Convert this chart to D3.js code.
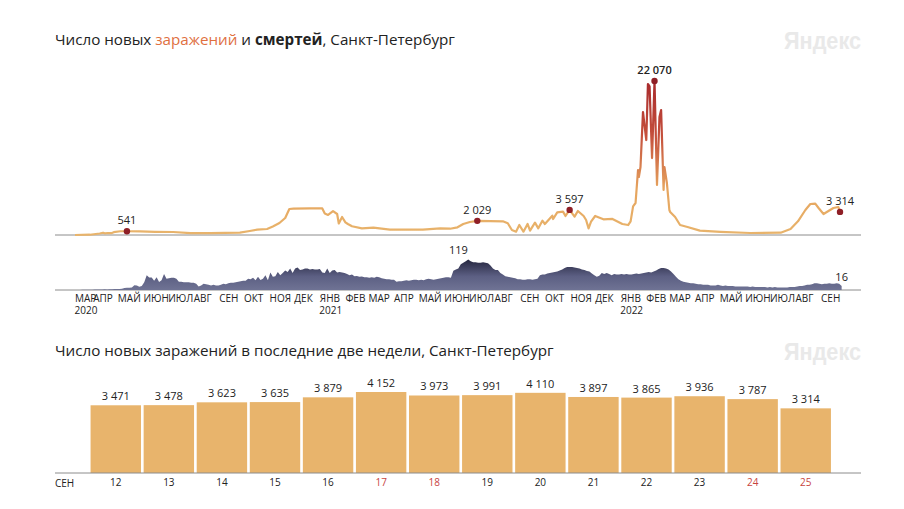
<!DOCTYPE html>
<html>
<head>
<meta charset="utf-8">
<script src="https://cdn.jsdelivr.net/npm/d3@7"></script>
<style>
body { margin: 0; background: #fff; }
svg { display: block; }
text { font-family: "Open Sans", sans-serif; fill: #222; }
</style>
</head>
<body>
<svg id="chart" width="904" height="509"></svg>
<script>
// day offsets from the first day of the series
var startDate = new Date(2020, 2, 10);
var caseDays = [0, 18, 30, 34, 36, 40, 44, 47, 55, 63, 79, 97, 119, 140, 164, 200, 212, 221, 233, 240, 248, 255, 260, 265, 285, 300, 303, 307, 313, 318, 320, 324, 328, 331, 336, 348, 362, 382, 403, 422, 443, 455, 464, 471, 479, 488, 519,
    525, 530, 535, 539, 544, 549, 552, 558, 562, 567, 570, 579, 580, 585, 592, 595, 600, 606, 610, 617, 620, 623, 626, 631, 641, 652, 664, 671, 674,
    677, 680, 683, 684, 686, 689, 693, 695, 697, 700, 703, 706, 709, 711, 714, 715, 718, 721, 722, 728, 734, 743, 758, 783, 819, 856, 868, 877, 886, 892, 898, 902, 908, 920, 926, 928];
var caseValues = [0, 40, 215, 330, 245, 285, 260, 400, 541, 541, 515, 460, 430, 260, 260, 330, 575, 760, 860, 1230, 1720, 2440, 3730, 3770, 3810, 3810, 3080, 2870, 3410, 3010, 1650, 2580, 1820, 1580, 1250, 960, 1050, 760, 760, 760, 960, 900, 1100, 1580, 1860, 2029, 1960,
    1680, 720, 480, 1430, 480, 1580, 620, 1770, 955, 2055, 1580, 2770, 2290, 3250, 3350, 2725, 3597, 2630, 3440, 2725, 2150, 955, 1910, 2725, 2250, 2300, 1580, 1430, 1960,
    4110, 4590, 9310, 8310, 9740, 17630, 13610, 21640, 21300, 11030, 22070, 7170, 16910, 17910, 6450, 9740, 7450, 3580, 3300, 2580, 1430, 1150, 620, 460, 290, 330, 860, 1960, 3580, 4440, 4490, 3870, 3010, 3870, 4010, 3314];

// one value every three days
var deathStep = 3;
var deathValues = [
    0, 0, 0, 1, 1, 1, 1, 1, 2, 2,
    2, 2, 3, 2, 3, 3, 4, 4, 4, 5,
    8, 9, 9, 10, 19, 18, 13, 16, 30, 58,
    49, 49, 36, 50, 31, 38, 62, 44, 46, 48,
    48, 44, 32, 32, 30, 30, 30, 28, 28, 24,
    14, 18, 24, 22, 20, 18, 20, 18, 18, 20,
    24, 22, 26, 28, 28, 30, 32, 34, 36, 36,
    44, 42, 48, 38, 52, 39, 44, 58, 38, 68,
    52, 54, 70, 58, 66, 76, 70, 84, 66, 84,
    88, 78, 80, 84, 84, 80, 82, 80, 80, 82,
    68, 66, 84, 66, 76, 78, 68, 70, 68, 66,
    62, 58, 60, 54, 55, 52, 53, 50, 50, 48,
    50, 48, 52, 50, 46, 44, 42, 42, 40, 40,
    32, 34, 34, 36, 38, 36, 38, 40, 40, 38,
    40, 38, 42, 44, 42, 40, 42, 44, 46, 48,
    50, 50, 48, 75, 80, 84, 100, 106, 112, 119,
    112, 108, 108, 106, 106, 108, 106, 104, 96, 84,
    78, 78, 66, 60, 54, 52, 50, 48, 46, 42,
    42, 40, 40, 42, 42, 40, 42, 44, 58, 60,
    60, 64, 66, 68, 70, 72, 76, 80, 86, 90,
    90, 90, 88, 86, 84, 80, 78, 74, 72, 64,
    58, 52, 56, 66, 62, 66, 62, 58, 62, 60,
    60, 62, 60, 62, 60, 60, 62, 64, 62, 64,
    66, 68, 70, 68, 72, 76, 82, 86, 86, 84,
    80, 72, 62, 52, 42, 36, 32, 30, 28, 26,
    26, 24, 22, 22, 20, 20, 20, 18, 18, 18,
    20, 18, 16, 18, 16, 16, 16, 14, 14, 14,
    14, 14, 14, 12, 14, 12, 12, 12, 12, 12,
    10, 12, 10, 12, 10, 10, 10, 10, 10, 12,
    12, 12, 14, 16, 16, 18, 20, 20, 22, 26,
    26, 24, 22, 24, 24, 26, 24, 24, 26, 24,
    16
];

// labelled points: day offset, value
var caseCallouts = [[63, 541], [488, 2029], [600, 3597], [703, 22070], [928, 3314]];
var deathCallouts = [[465, 119], [930, 16]];

var monthNames = ['ЯНВ', 'ФЕВ', 'МАР', 'АПР', 'МАЙ', 'ИЮН', 'ИЮЛ', 'АВГ', 'СЕН', 'ОКТ', 'НОЯ', 'ДЕК'];

var lastDays = ['12', '13', '14', '15', '16', '17', '18', '19', '20', '21', '22', '23', '24', '25'];
var lastValues = [3471, 3478, 3623, 3635, 3879, 4152, 3973, 3991, 4110, 3897, 3865, 3936, 3787, 3314];
var weekendDays = ['17', '18', '24', '25'];

var svg = d3.select('#chart');
var defs = svg.append('defs');
var lineColor = '#8c8c8c';
var orange = '#e8b46c';
var format = function (v) {
    return d3.format(',')(v).replace(/,/g, ' ');
};
var dayToDate = function (d) {
    return d3.timeDay.offset(startDate, d);
};

var xScale = d3.scaleTime()
    .domain([startDate, dayToDate(928)])
    .range([75, 840]);
var caseY = d3.scaleLinear().domain([0, 22070]).range([235, 81]);
var deathY = d3.scaleLinear().domain([0, 119]).range([290, 259.5]);

function title(y, parts) {
    var t = svg.append('text').attr('x', 55).attr('y', y).style('font-size', '15.2px');
    parts.forEach(function (p) {
        t.append('tspan')
            .text(p.text)
            .style('fill', p.color || '#222')
            .style('font-weight', p.bold ? 700 : 400);
    });
}

function logo(y) {
    svg.append('text')
        .attr('x', 784)
        .attr('y', y)
        .attr('textLength', 77)
        .attr('lengthAdjust', 'spacingAndGlyphs')
        .style('font-family', '"Liberation Sans", sans-serif')
        .style('font-size', '24px')
        .style('font-weight', 700)
        .style('fill', '#e9e9e9')
        .text('Яндекс');
}

function baseline(y) {
    svg.append('line')
        .attr('x1', 55)
        .attr('x2', 861)
        .attr('y1', y)
        .attr('y2', y)
        .attr('stroke', lineColor)
        .attr('stroke-width', 1);
}

title(45, [
    { text: 'Число новых ' },
    { text: 'заражений', color: '#e0703f' },
    { text: ' и ' },
    { text: 'смертей', bold: true },
    { text: ', Санкт-Петербург' }
]);
logo(49);

// цвет линии зависит от значения
var caseGradient = defs.append('linearGradient')
    .attr('id', 'caseGradient')
    .attr('gradientUnits', 'userSpaceOnUse')
    .attr('x1', 0).attr('x2', 0)
    .attr('y1', caseY(0)).attr('y2', caseY(22070));
caseGradient.append('stop').attr('offset', '0%').attr('stop-color', orange);
caseGradient.append('stop').attr('offset', '30%').attr('stop-color', '#e6a45e');
caseGradient.append('stop').attr('offset', '65%').attr('stop-color', '#c44f3c');
caseGradient.append('stop').attr('offset', '100%').attr('stop-color', '#a82a2c');

var deathGradient = defs.append('linearGradient')
    .attr('id', 'deathGradient')
    .attr('gradientUnits', 'userSpaceOnUse')
    .attr('x1', 0).attr('x2', 0)
    .attr('y1', deathY(0)).attr('y2', deathY(119));
deathGradient.append('stop').attr('offset', '0%').attr('stop-color', '#6f7394');
deathGradient.append('stop').attr('offset', '45%').attr('stop-color', '#5c5f83');
deathGradient.append('stop').attr('offset', '100%').attr('stop-color', '#25263f');

baseline(235);
baseline(290);

var area = d3.area()
    .x(function (d, i) { return xScale(dayToDate(i * deathStep)); })
    .y0(deathY(0))
    .y1(function (d) { return deathY(d); });
svg.append('path')
    .attr('d', area(deathValues))
    .attr('fill', 'url(#deathGradient)');

var line = d3.line()
    .x(function (d) { return xScale(dayToDate(d[0])); })
    .y(function (d) { return caseY(d[1]); });
svg.append('path')
    .attr('d', line(d3.zip(caseDays, caseValues)))
    .attr('fill', 'none')
    .attr('stroke', 'url(#caseGradient)')
    .attr('stroke-width', 2.2)
    .attr('stroke-linejoin', 'round');

caseCallouts.forEach(function (c) {
    var cx = xScale(dayToDate(c[0]));
    var cy = caseY(c[1]);
    svg.append('circle').attr('cx', cx).attr('cy', cy).attr('r', 3.2).attr('fill', '#8f1f26');
    svg.append('text')
        .attr('x', cx)
        .attr('y', cy - 7)
        .attr('text-anchor', 'middle')
        .style('font-size', '11px')
        .style('font-weight', c[1] === 22070 ? 600 : 400)
        .text(format(c[1]));
});
svg.append('text')
    .attr('x', xScale(dayToDate(deathCallouts[0][0])))
    .attr('y', 254)
    .attr('text-anchor', 'middle')
    .style('font-size', '11px')
    .text(deathCallouts[0][1]);
svg.append('text')
    .attr('x', xScale(dayToDate(deathCallouts[1][0])))
    .attr('y', 281)
    .attr('text-anchor', 'middle')
    .style('font-size', '11px')
    .text(deathCallouts[1][1]);

// подписи месяцев
var monthTicks = [startDate].concat(d3.timeMonths(new Date(2020, 3, 1), new Date(2022, 8, 2)));
var xAxis = d3.axisBottom(xScale)
    .tickValues(monthTicks)
    .tickSize(0)
    .tickPadding(0)
    .tickFormat(function (d) { return monthNames[d.getMonth()]; });
var axisG = svg.append('g').attr('transform', 'translate(-0.5, 295)').call(xAxis);
axisG.select('.domain').remove();
axisG.selectAll('text')
    .attr('text-anchor', 'start')
    .attr('dy', '0.71em')
    .style('font-family', '"Open Sans", sans-serif')
    .style('font-size', '10px')
    .style('fill', '#222');
[startDate, new Date(2021, 0, 1), new Date(2022, 0, 1)].forEach(function (d) {
    svg.append('text')
        .attr('x', xScale(d) - 0.5)
        .attr('y', 314)
        .style('font-size', '10px')
        .text(d.getFullYear());
});

// нижний график
title(356, [{ text: 'Число новых заражений в последние две недели, Санкт-Петербург' }]);
logo(360);

var barX = d3.scaleBand().domain(lastDays).range([89.5, 832]).paddingInner(0.05).paddingOuter(0.02);
var barY = d3.scaleLinear().domain([0, 4152]).range([473, 392]);

svg.selectAll('.bar')
    .data(lastValues)
    .enter()
    .append('rect')
    .attr('class', 'bar')
    .attr('x', function (d, i) { return barX(lastDays[i]); })
    .attr('y', function (d) { return barY(d); })
    .attr('width', barX.bandwidth())
    .attr('height', function (d) { return barY(0) - barY(d); })
    .attr('fill', orange);

svg.selectAll('.barLabel')
    .data(lastValues)
    .enter()
    .append('text')
    .attr('class', 'barLabel')
    .attr('x', function (d, i) { return barX(lastDays[i]) + barX.bandwidth() / 2; })
    .attr('y', function (d) { return barY(d) - 5; })
    .attr('text-anchor', 'middle')
    .style('font-size', '11px')
    .text(format);

baseline(473);

var barAxis = d3.axisBottom(barX).tickSize(0).tickPadding(0);
var barAxisG = svg.append('g').attr('transform', 'translate(0, 479)').call(barAxis);
barAxisG.select('.domain').remove();
barAxisG.selectAll('text')
    .attr('dy', '0.71em')
    .style('font-family', '"Open Sans", sans-serif')
    .style('font-size', '10px')
    .style('fill', function (d) {
        return weekendDays.indexOf(d) >= 0 ? '#c8453f' : '#222';
    });
svg.append('text').attr('x', 55).attr('y', 487).style('font-size', '10px').text('СЕН');
</script>
</body>
</html>
